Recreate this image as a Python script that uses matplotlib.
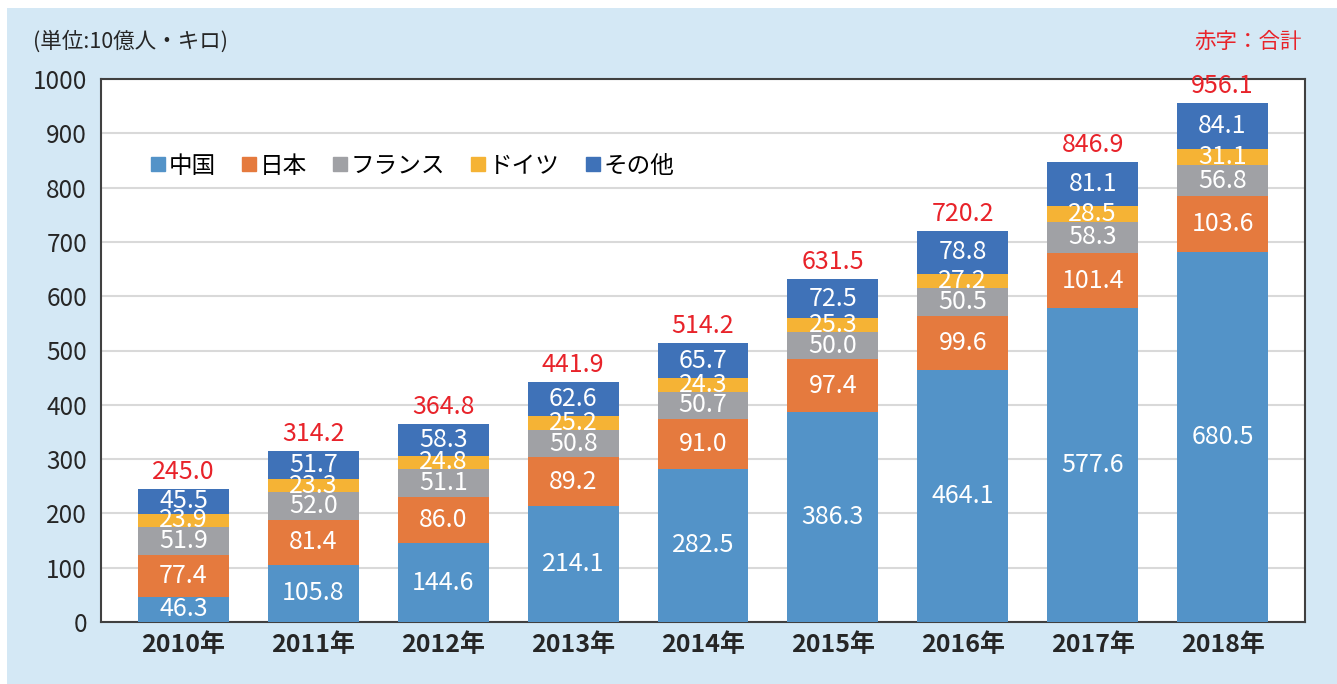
import numpy as np
import matplotlib
matplotlib.use("Agg")
import matplotlib.pyplot as plt
from matplotlib.patches import Rectangle
from matplotlib.lines import Line2D

plt.rcParams['font.family'] = ['Noto Sans CJK JP', 'DejaVu Sans']

# データ（単位：10億人・キロ）
years = ["2010年", "2011年", "2012年", "2013年", "2014年",
         "2015年", "2016年", "2017年", "2018年"]
china = [46.3, 105.8, 144.6, 214.1, 282.5, 386.3, 464.1, 577.6, 680.5]
japan = [77.4, 81.4, 86.0, 89.2, 91.0, 97.4, 99.6, 101.4, 103.6]
france = [51.9, 52.0, 51.1, 50.8, 50.7, 50.0, 50.5, 58.3, 56.8]
germany = [23.9, 23.3, 24.8, 25.2, 24.3, 25.3, 27.2, 28.5, 31.1]
others = [45.5, 51.7, 58.3, 62.6, 65.7, 72.5, 78.8, 81.1, 84.1]
totals = [245.0, 314.2, 364.8, 441.9, 514.2, 631.5, 720.2, 846.9, 956.1]

names = ["中国", "日本", "フランス", "ドイツ", "その他"]
colors = ["#5393C8", "#E57A3E", "#A0A1A5", "#F5B335", "#3F72B8"]
series = [china, japan, france, germany, others]
red = "#E8232A"

fig = plt.figure(figsize=(13.37, 6.84), dpi=100)
fig.patch.set_facecolor("white")
# 背景の水色
fig.patches.append(Rectangle((7 / 1337, 0), 1, 676 / 684, transform=fig.transFigure,
                             facecolor="#D4E8F5", edgecolor="none", zorder=-10))

ax = fig.add_axes([101 / 1337, 62 / 684, 1204 / 1337, 543 / 684])
ax.set_facecolor("white")

x = np.arange(len(years))
bottom = np.zeros(len(years))
for vals, name, c in zip(series, names, colors):
    bars = ax.bar(x, vals, 0.7, bottom=bottom, color=c, label=name, zorder=3)
    ax.bar_label(bars, labels=[f"{v:.1f}" for v in vals], label_type="center",
                 color="white", fontsize=18, zorder=4)
    bottom += np.array(vals)

# 合計（赤字）
tot_bars = ax.bar(x, np.zeros(len(years)), 0.7, bottom=bottom, color="none", zorder=1)
ax.bar_label(tot_bars, labels=[f"{v:.1f}" for v in totals], padding=3,
             color=red, fontsize=18)

ax.set_xlim(-0.635, 8.635)
ax.set_ylim(0, 1000)
ax.set_yticks(np.arange(0, 1001, 100))
ax.set_xticks(x)
ax.set_xticklabels(years, fontsize=18, fontweight="bold", color="#262626")
ax.tick_params(axis="y", labelsize=17.5, labelcolor="#262626", length=0, pad=10)
ax.tick_params(axis="x", length=0, pad=8)
ax.grid(axis="y", color="#D9D9D9", linewidth=1.5, zorder=0)
for s in ax.spines.values():
    s.set_color("#404040")
    s.set_linewidth(1.5)

handles = [Line2D([], [], marker="s", linestyle="none", markersize=10,
                  markerfacecolor=c, markeredgecolor=c) for c in colors]
ax.legend(handles, names, loc="upper left", bbox_to_anchor=(0.022, 0.90),
          ncol=5, frameon=False, fontsize=17, handletextpad=0.05,
          columnspacing=1.0, handlelength=0.8)

fig.text(33 / 1337, 1 - 42 / 684, "(単位:10億人・キロ)", fontsize=15.5,
         color="#262626", va="center", ha="left")
fig.text(1302 / 1337, 1 - 42 / 684, "赤字：合計", fontsize=15.5,
         color=red, va="center", ha="right")

fig.savefig("out.png", dpi=100)
